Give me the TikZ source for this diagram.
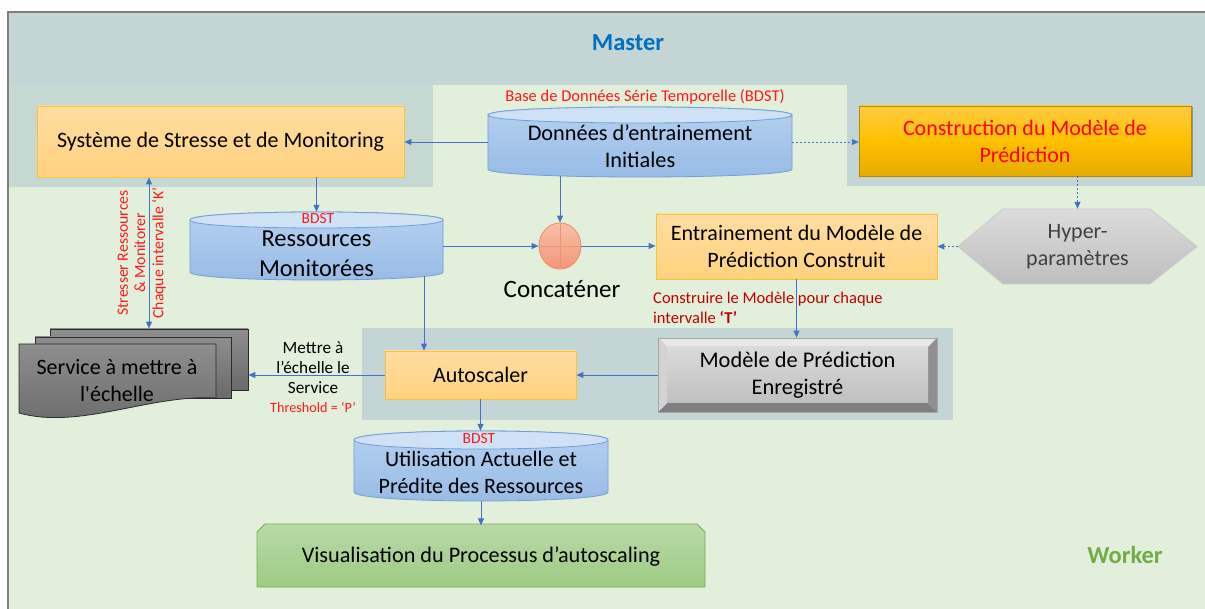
\documentclass[tikz,border=0pt]{standalone}
\usepackage{fontspec}
\setmainfont{Carlito}
\usetikzlibrary{arrows.meta,shadows,shapes.geometric,calc}
\definecolor{workerbg}{HTML}{E2EFDA}
\definecolor{masterc}{HTML}{C3D5D5}
\definecolor{masterl}{HTML}{C5D9D2}
\definecolor{framegray}{HTML}{7F7F7F}
\definecolor{arrowblue}{HTML}{4472C4}
\definecolor{otop}{HTML}{FFDDA1}
\definecolor{obot}{HTML}{FFD27E}
\definecolor{oborder}{HTML}{F8C23A}
\definecolor{gtop}{HTML}{FFCB3F}
\definecolor{gmid}{HTML}{FFC000}
\definecolor{gbot}{HTML}{E6AB00}
\definecolor{cylend}{HTML}{CFE1F5}
\definecolor{cylbt}{HTML}{B5D1F0}
\definecolor{cylbb}{HTML}{97BBE6}
\definecolor{cylborder}{HTML}{6F9FD8}
\definecolor{hextop}{HTML}{DCDCDC}
\definecolor{hexbot}{HTML}{BEBEBE}
\definecolor{hexborder}{HTML}{C9C9C9}
\definecolor{circtop}{HTML}{F8C0A8}
\definecolor{circbot}{HTML}{F3967A}
\definecolor{circborder}{HTML}{EF8C5F}
\definecolor{crossc}{HTML}{F0936E}
\definecolor{vistop}{HTML}{B8D9A8}
\definecolor{visbot}{HTML}{9ECB83}
\definecolor{visborder}{HTML}{74B04B}
\definecolor{doctop}{HTML}{8E8E8E}
\definecolor{docbot}{HTML}{6A6A6A}
\definecolor{docborder}{HTML}{2B2B2B}
\definecolor{bevtop}{HTML}{E8E8E8}
\definecolor{bevleft}{HTML}{D2D2D2}
\definecolor{bevright}{HTML}{8F8F8F}
\definecolor{bevbot}{HTML}{7F7F7F}
\definecolor{facetop}{HTML}{DADADA}
\definecolor{facebot}{HTML}{C0C0C0}
\definecolor{bevborder}{HTML}{A6A6A6}
\definecolor{masterblue}{HTML}{0070C0}
\definecolor{workergreen}{HTML}{70AD47}
\definecolor{redc}{HTML}{FF1A1A}
\definecolor{darkred}{HTML}{C00000}
\definecolor{hextext}{HTML}{404040}
\newcommand\drawcyl[5]{%
 \pgfmathsetmacro\cyt{#2+#5}\pgfmathsetmacro\cyb{#4-#5}\pgfmathsetmacro\cyh{4/3*#5}%
 \path[top color=cylbt,bottom color=cylbb,draw=cylborder,line width=0.8pt]
   (#1,\cyt) -- (#1,\cyb) .. controls (#1,\cyb+\cyh) and (#3,\cyb+\cyh) .. (#3,\cyb)
   -- (#3,\cyt) .. controls (#3,\cyt-\cyh) and (#1,\cyt-\cyh) .. (#1,\cyt) -- cycle;
 \path[fill=cylend,draw=cylborder,line width=0.8pt]
   (#1,\cyt) .. controls (#1,\cyt-\cyh) and (#3,\cyt-\cyh) .. (#3,\cyt)
   .. controls (#3,\cyt+\cyh) and (#1,\cyt+\cyh) .. (#1,\cyt) -- cycle;
}
\begin{document}
\begin{tikzpicture}[x=1pt,y=-1pt,
  arr/.style={draw=arrowblue, line width=0.9pt, -{Triangle[length=7pt,width=6pt]}},
  dblarr/.style={draw=arrowblue, line width=0.9pt, {Triangle[length=7pt,width=6pt]}-{Triangle[length=7pt,width=6pt]}},
  dotarr/.style={arr, dash pattern=on 2.2pt off 1.8pt},
  obox/.style={draw=oborder, line width=0.8pt, top color=otop, bottom color=obot, align=center, inner sep=0pt, font=\fontsize{22}{27}\selectfont},
  holder/.style={draw=none, inner sep=0pt},
  bigtxt/.style={align=center, inner sep=0pt, font=\fontsize{22}{27}\selectfont},
  redtxt/.style={align=center, inner sep=0pt, text=redc, font=\fontsize{16.5}{18}\selectfont},
  doc/.style={draw=docborder, line width=0.8pt, top color=doctop, bottom color=docbot, inner sep=0pt},
]
\useasboundingbox (0,0) rectangle (1205,609);
\fill[white] (0,0) rectangle (1205,609);
% regions
\fill[workerbg] (8,12) rectangle (1205,609);
\fill[masterc] (9,13) rectangle (1205,85);
\fill[masterl] (9,85) rectangle (433,187);
\fill[masterc] (847,85) rectangle (1205,186);
\fill[masterc] (362,328) rectangle (953,420);
\draw[framegray, line width=1.3pt] (8,609) -- (8,12) -- (1205,12);
\node[font=\bfseries\fontsize{24.5}{28}\selectfont, text=masterblue] (master) at (628,43) {Master};
\node[font=\bfseries\fontsize{24.5}{28}\selectfont, text=workergreen] (worker) at (1125,555) {Worker};

% Service stack
\node[doc, minimum width=198pt, minimum height=61pt] (svcback) at (149,359.5) {};
\node[doc, minimum width=196pt, minimum height=61pt] (svcmid) at (133,367.5) {};
\path[doc] (19,344) -- (216,344) -- (216,398) .. controls (150,394) and (80,430) .. (19,413) -- cycle;
\node[bigtxt] (svc) at (117,381) {Service à mettre à\\l\textquotesingle échelle};

% cylinders
\drawcyl{488}{107}{792}{177}{8}
\node[holder, minimum width=304pt, minimum height=70pt] (don) at (640,142) {};
\node[bigtxt, font=\fontsize{22.3}{27}\selectfont] (dontxt) at (640,146.5) {Données d’entrainement\\Initiales};
\node[redtxt] (bdst1) at (645,97) {Base de Données Série Temporelle (BDST)};

\drawcyl{190}{212}{443}{280}{8}
\node[holder, minimum width=253pt, minimum height=68pt] (res) at (316.5,246) {};
\node[bigtxt, font=\fontsize{24.4}{30}\selectfont] (restxt) at (316.5,253.5) {Ressources\\Monitorées};
\node[redtxt, font=\fontsize{15.5}{16}\selectfont] (bdst2) at (318,218.5) {BDST};

\drawcyl{354}{431}{608}{501}{9}
\node[holder, minimum width=254pt, minimum height=70pt] (util) at (481,466) {};
\node[bigtxt] (utiltxt) at (481,472) {Utilisation Actuelle et\\Prédite des Ressources};
\node[redtxt, font=\fontsize{15.5}{16}\selectfont] (bdst3) at (479,439) {BDST};

% boxes
\node[obox, minimum width=367pt, minimum height=71pt] (sys) at (220.5,141.5) {Système de Stresse et de Monitoring};
\node[obox, minimum width=281pt, minimum height=65pt] (entr) at (796.5,246.5) {Entrainement du Modèle de\\Prédiction Construit};
\node[obox, minimum width=191pt, minimum height=48pt] (auto) at (480.5,375) {Autoscaler};
\node[draw=gbot!80!black, line width=0.4pt, top color=gtop, bottom color=gbot, middle color=gmid, align=center, inner sep=0pt,
  font=\fontsize{22}{27}\selectfont, text=red, minimum width=332pt, minimum height=70pt,
  drop shadow={shadow xshift=1.5pt, shadow yshift=-1.5pt, opacity=0.3, fill=black}] (constr) at (1025,141) {Construction du Modèle de\\Prédiction};

% hexagon
\path[top color=hextop, bottom color=hexbot, draw=hexborder, line width=0.8pt]
  (958,246.5) -- (1003,209) -- (1150,209) -- (1197,246.5) -- (1150,284) -- (1003,284) -- cycle;
\node[holder, minimum width=239pt, minimum height=75pt, align=center, text=hextext, font=\fontsize{22}{27}\selectfont] (hex) at (1077.5,246.5) {Hyper-\\paramètres};

% bevel box
\fill[bevtop] (658,338) -- (937,338) -- (928,347) -- (667,347) -- cycle;
\fill[bevbot] (658,412) -- (937,412) -- (928,403) -- (667,403) -- cycle;
\fill[bevleft] (658,338) -- (667,347) -- (667,403) -- (658,412) -- cycle;
\fill[bevright] (937,338) -- (928,347) -- (928,403) -- (937,412) -- cycle;
\path[top color=facetop, bottom color=facebot] (667,347) rectangle (928,403);
\node[draw=bevborder, line width=0.8pt, inner sep=0pt, minimum width=279pt, minimum height=74pt, align=center,
  font=\fontsize{22.4}{27}\selectfont] (modele) at (797.5,375) {Modèle de Prédiction\\Enregistré};

% visualisation
\path[top color=vistop, bottom color=visbot, draw=visborder, line width=0.8pt]
  (257,532) -- (265,524) -- (697,524) -- (705,532) -- (705,587) -- (257,587) -- cycle;
\node[holder, minimum width=448pt, minimum height=63pt, font=\fontsize{22.2}{26}\selectfont] (vis) at (481,557) {Visualisation du Processus d’autoscaling};

% junction
\node[ellipse, draw=circborder, line width=0.8pt, top color=circtop, bottom color=circbot, minimum width=42pt, minimum height=46pt, inner sep=0pt] (circ) at (560,246) {};
\draw[crossc, line width=0.8pt] (circ.north) -- (circ.south) (circ.west) -- (circ.east);
\node[bigtxt, font=\fontsize{25}{28}\selectfont] (conc) at (562,289) {Concaténer};

% labels
\node[redtxt, rotate=90, font=\fontsize{15.7}{17.3}\selectfont] (lab1) at (131.5,253) {Stresser Ressources\\\& Monitorer};
\node[redtxt, rotate=90, font=\fontsize{15.7}{17.3}\selectfont] (lab2) at (159,253) {Chaque intervalle ‘K’};
\node[bigtxt, font=\fontsize{17.2}{20}\selectfont] (mettre) at (313,368) {Mettre à\\l’échelle le\\Service};
\node[redtxt, font=\fontsize{14.2}{15}\selectfont] (thresh) at (313,407) {Threshold = ‘P’};
\node[anchor=west, align=left, inner sep=0pt, text=darkred, font=\fontsize{16.5}{20}\selectfont] (constrlab) at (653,308) {Construire le Modèle pour chaque\\intervalle \textbf{‘T’}};

% connectors
\draw[arr] (don.west) -- (don.west -| sys.east);
\draw[dotarr] (don.east) -- (don.east -| constr.west);
\draw[dotarr] (constr.south -| hex.north) -- (hex.north);
\draw[dotarr] (hex.west) -- (hex.west -| entr.east);
\draw[arr] (sys.south -| res.north) -- (res.north);
\draw[arr] (res.east) -- (circ.west);
\draw[arr] ([yshift=1pt]circ.north |- don.south) -- (circ.north);
\draw[arr] (circ.east) -- (circ.east -| entr.west);
\draw[arr] (entr.south) -- (entr.south |- modele.north);
\draw[arr] (modele.west) -- (modele.west -| auto.east);
\draw[arr] ($(res.south)+(107.5,-4)$) coordinate (rdown) -- (rdown |- auto.north);
\draw[arr] (auto.west) -- (auto.west -| svcback.east);
\draw[arr] (auto.south) -- (auto.south |- util.north);
\draw[arr] (util.south) -- (util.south |- vis.north);
\draw[dblarr] (sys.south -| svcback.north) -- (svcback.north);
\end{tikzpicture}
\end{document}
